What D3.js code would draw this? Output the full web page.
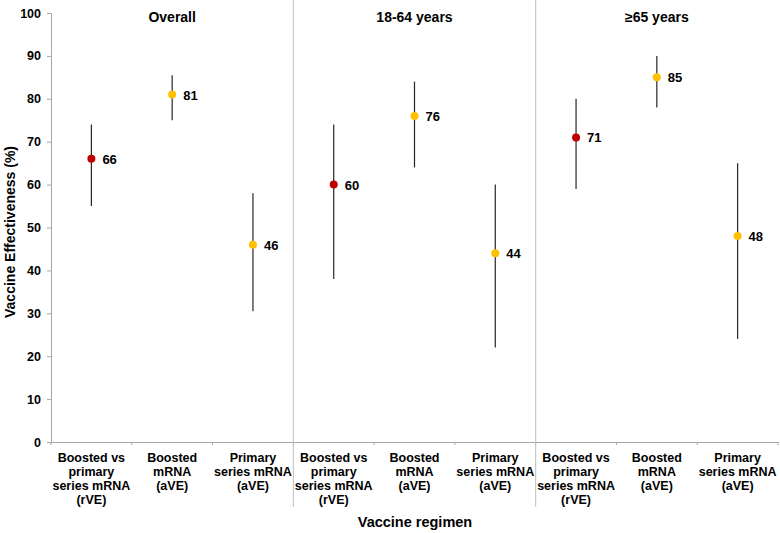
<!DOCTYPE html>
<html><head><meta charset="utf-8">
<script src="https://cdn.jsdelivr.net/npm/d3@7"></script>
<style>body{margin:0;background:#fff}svg{display:block;font-family:Arial,"Liberation Sans",sans-serif}</style>
</head><body><svg id="c" width="780" height="533"></svg>
<script>
const panels = ["Overall", "18-64 years", "\u226565 years"];
const regimens = [["Boosted vs", "primary", "series mRNA", "(rVE)"], ["Boosted", "mRNA", "(aVE)"], ["Primary", "series mRNA", "(aVE)"]];
const regimenType = ["rVE", "aVE", "aVE"];
const ve    = [66, 81, 46, 60, 76, 44, 71, 85, 48];
const lower = [55, 75, 30.5, 38, 64, 22, 59, 78, 24];
const upper = [74, 85.5, 58, 74, 84, 60, 80, 90, 65];
const yTicks = [0,10,20,30,40,50,60,70,80,90,100];

const svg = d3.select("#c");
const m = {l:51, r:2, t:13, b:91};
const W = 780, H = 533;
const cats = d3.range(9).map(String);
const x = d3.scaleBand().domain(cats).range([m.l, W - m.r]);
const y = d3.scaleLinear().domain([0,100]).range([H - m.b, m.t]);
const axisCol = "#a6a6a6";

// y axis
const ya = svg.append("g").attr("transform", `translate(${m.l},0)`)
  .call(d3.axisLeft(y).tickValues(yTicks).tickSize(4).tickPadding(6));
ya.select(".domain").attr("stroke", axisCol);
ya.selectAll(".tick line").attr("stroke", axisCol);
ya.selectAll("text").attr("font-size", 12.5).attr("font-weight", "bold").attr("fill", "#000");

// x axis baseline + ticks at band boundaries
const xa = svg.append("g").attr("transform", `translate(0,${y(0)})`)
  .call(d3.axisBottom(x).tickSize(0).tickFormat(""));
xa.select(".domain").attr("stroke", axisCol);
const bounds = d3.range(10).map(i => m.l + i * x.step());
svg.append("g").selectAll("line").data(bounds).join("line")
  .attr("x1", d => d).attr("x2", d => d)
  .attr("y1", y(0)).attr("y2", y(0) + 3)
  .attr("stroke", axisCol);

// panel separators
[3, 6].forEach(i => {
  const xx = m.l + i * x.step();
  svg.append("line").attr("x1", xx).attr("x2", xx).attr("y1", 0).attr("y2", 507)
    .attr("stroke", "#bfbfbf").attr("stroke-width", 1);
});

// panel titles
panels.forEach((p, i) => {
  const cx = x(String(i*3+1)) + x.bandwidth()/2;
  svg.append("text").attr("x", cx).attr("y", 22).attr("text-anchor", "middle")
    .attr("font-size", 14).attr("font-weight", "bold").text(p);
});

// category labels
cats.forEach((c, i) => {
  const lines = regimens[i % 3];
  const t = svg.append("text").attr("x", x(c) + x.bandwidth()/2).attr("y", 462)
    .attr("text-anchor", "middle").attr("font-size", 12.5).attr("font-weight", "bold");
  lines.forEach((ln, j) => t.append("tspan").attr("x", x(c) + x.bandwidth()/2).attr("dy", j ? 14 : 0).text(ln));
});

// error bars
const g = svg.append("g");
g.selectAll("line.err").data(cats).join("line").attr("class", "err")
  .attr("x1", d => x(d) + x.bandwidth()/2).attr("x2", d => x(d) + x.bandwidth()/2)
  .attr("y1", (d,i) => y(lower[i])).attr("y2", (d,i) => y(upper[i]))
  .attr("stroke", "#262626").attr("stroke-width", 1.2);

g.selectAll("circle").data(cats).join("circle")
  .attr("cx", d => x(d) + x.bandwidth()/2).attr("cy", (d,i) => y(ve[i])).attr("r", 4)
  .attr("fill", (d,i) => regimenType[i % 3] === "rVE" ? "#c00000" : "#ffc000");

g.selectAll("text.v").data(cats).join("text").attr("class", "v")
  .attr("x", d => x(d) + x.bandwidth()/2 + 11).attr("y", (d,i) => y(ve[i]) + 5)
  .attr("font-size", 13).attr("font-weight", "bold").text((d,i) => ve[i]);

// axis titles
svg.append("text").attr("transform", `translate(10,232) rotate(-90)`)
  .attr("text-anchor", "middle").attr("dy", "0.35em").attr("font-size", 14).attr("font-weight", "bold")
  .text("Vaccine Effectiveness (%)");
svg.append("text").attr("x", 415).attr("y", 527).attr("text-anchor", "middle")
  .attr("font-size", 14.5).attr("font-weight", "bold").text("Vaccine regimen");
</script></body></html>
